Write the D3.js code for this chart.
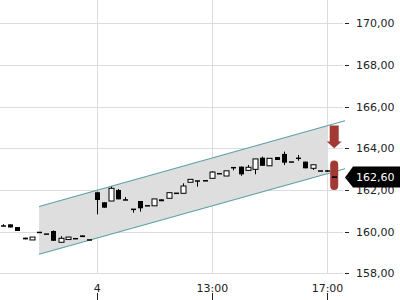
<!DOCTYPE html>
<html>
<head>
<meta charset="utf-8">
<script src="https://cdn.jsdelivr.net/npm/d3@7"></script>
<style>
  body { margin: 0; background: #fff; }
  text { font-family: "DejaVu Sans", sans-serif; font-size: 11px; fill: #222; }
</style>
</head>
<body>
<script>
// 15-minute candles, previous day tail then day 4
var opens  = [160.27,160.35,160.22,159.71,159.60,159.96,159.88,160.03,159.49,159.62,159.66,159.82,159.60,
              161.89,161.41,161.47,162.00,161.52,161.07,161.47,161.24,161.24,161.55,161.60,161.84,161.84,162.37,
              162.43,162.44,162.56,162.78,162.67,163.07,163.12,162.94,162.99,163.55,163.16,163.58,163.73,163.34,
              163.52,163.36,163.04,162.91,162.91,162.63];
var closes = [160.27,160.20,160.03,159.63,159.74,159.96,159.88,159.56,159.68,159.74,159.66,159.74,159.60,
              161.52,161.15,162.08,161.55,161.52,161.07,161.12,161.24,161.57,161.46,161.87,161.84,162.19,162.51,
              162.43,162.44,162.86,162.78,162.92,163.07,162.75,163.09,163.49,163.16,163.52,163.44,163.31,163.34,
              163.52,163.04,163.21,162.91,162.91,162.60];
var highs  = [160.36,160.35,160.22,159.71,159.74,159.96,159.88,160.06,159.78,159.74,159.66,159.82,159.60,
              161.92,161.41,162.16,162.05,161.66,161.07,161.47,161.24,161.57,161.55,161.87,161.84,162.32,162.51,
              162.43,162.44,162.90,162.78,162.92,163.07,163.12,163.20,163.49,163.60,163.52,163.58,163.84,163.34,
              163.68,163.36,163.21,162.91,162.95,162.63];
var lows   = [160.27,160.20,160.03,159.63,159.60,159.96,159.88,159.56,159.49,159.62,159.66,159.74,159.60,
              160.83,161.15,161.47,161.55,161.52,160.91,160.96,161.24,161.24,161.46,161.60,161.84,161.84,162.37,
              162.16,162.44,162.56,162.78,162.67,162.94,162.68,162.94,162.75,163.16,163.16,163.44,163.20,163.34,
              163.40,163.04,162.96,162.91,162.86,162.60];

var xTickIdx = [13, 29, 45];
var xTickLabels = ["4", "13:00", "17:00"];
var yTicks = [158, 160, 162, 164, 166, 168, 170];

// regression channel: [start index, end index], upper/lower price at each end
var channelIdx = [5, 47.5];
var channelUpper = [161.21, 165.32];
var channelLower = [158.91, 163.02];
var channelFillEnd = 45.05;

var lastPrice = 162.60;
// signal markers: down arrow tip price, pill top/bottom prices
var arrowSignal = { i: 46, tip: 164.0, top: 165.1 };
var pillSignal = { i: 46, top: 163.42, bottom: 162.0 };

var width = 400, height = 300;
var plotRight = 343;

var fmt = function(v){ return d3.format(".2f")(v).replace(".", ","); };

var x = d3.scaleLinear().domain([0, 46]).range([3.1, 334.2]);
var y = d3.scaleLinear().domain([158, 170]).range([273.3, 23.3]);

var svg = d3.select("body").append("svg")
  .attr("width", width)
  .attr("height", height);

/* grid */
svg.append("g")
  .selectAll("line")
  .data(yTicks)
  .enter().append("line")
  .attr("x1", 0).attr("x2", plotRight)
  .attr("y1", d => Math.round(y(d)) + 0.5).attr("y2", d => Math.round(y(d)) + 0.5)
  .style("stroke", "#dcdcdc");

svg.append("g")
  .selectAll("line")
  .data(xTickIdx)
  .enter().append("line")
  .attr("x1", d => Math.round(x(d)) + 0.5).attr("x2", d => Math.round(x(d)) + 0.5)
  .attr("y1", 0).attr("y2", 274)
  .style("stroke", "#dcdcdc");

/* channel */
var lineAt = function(ends, i){
  var t = (i - channelIdx[0]) / (channelIdx[1] - channelIdx[0]);
  return ends[0] + t * (ends[1] - ends[0]);
};

svg.append("polygon")
  .attr("points", [
      [x(channelIdx[0]), y(channelUpper[0])],
      [x(channelFillEnd), y(lineAt(channelUpper, channelFillEnd))],
      [x(channelFillEnd), y(lineAt(channelLower, channelFillEnd))],
      [x(channelIdx[0]), y(channelLower[0])]
    ].map(p => p.join(",")).join(" "))
  .style("fill", "#dedede");

[channelUpper, channelLower].forEach(function(ends){
  svg.append("line")
    .attr("x1", x(channelIdx[0])).attr("y1", y(ends[0]))
    .attr("x2", x(channelIdx[1])).attr("y2", y(ends[1]))
    .style("stroke", "#5d9fa6")
    .style("stroke-width", 1.1);
});

/* candles */
var candles = opens.map(function(o, i){
  return { i: i, o: o, c: closes[i], h: highs[i], l: lows[i] };
});

var bodyW = 5;
var cg = svg.append("g")
  .selectAll("g")
  .data(candles)
  .enter().append("g");

cg.append("line")
  .attr("x1", d => Math.round(x(d.i)) + 0.5)
  .attr("x2", d => Math.round(x(d.i)) + 0.5)
  .attr("y1", d => y(d.h))
  .attr("y2", d => y(d.l))
  .style("stroke", "#000");

cg.append("rect")
  .attr("x", d => Math.round(x(d.i)) - bodyW / 2 + 0.5)
  .attr("width", bodyW)
  .attr("y", function(d){
    var top = y(Math.max(d.o, d.c)), bot = y(Math.min(d.o, d.c));
    return (bot - top < 1.5) ? (top + bot) / 2 - 0.75 : top;
  })
  .attr("height", function(d){
    var h = y(Math.min(d.o, d.c)) - y(Math.max(d.o, d.c));
    return Math.max(h, 1.5);
  })
  .style("fill", d => (d.c > d.o) ? "#fff" : "#000")
  .style("stroke", d => (d.c > d.o) ? "#000" : "none")
  .style("stroke-width", 1);

/* signal markers */
var red = "#a23a33";
var ax = x(arrowSignal.i);
var headY = arrowSignal.tip + (arrowSignal.top - arrowSignal.tip) * 0.3;
svg.append("path")
  .attr("d", [
      "M", ax - 4.5, y(arrowSignal.top),
      "L", ax + 4.5, y(arrowSignal.top),
      "L", ax + 4.5, y(headY),
      "L", ax + 7.5, y(headY),
      "L", ax, y(arrowSignal.tip),
      "L", ax - 7.5, y(headY),
      "L", ax - 4.5, y(headY), "Z"
    ].join(" "))
  .style("fill", red);

svg.append("rect")
  .attr("x", x(pillSignal.i) - 4)
  .attr("width", 8)
  .attr("y", y(pillSignal.top))
  .attr("height", y(pillSignal.bottom) - y(pillSignal.top))
  .attr("rx", 4)
  .style("fill", red);

// last candle drawn again on top of the pill
var last = candles[candles.length - 1];
svg.append("rect")
  .attr("x", Math.round(x(last.i)) - bodyW / 2 + 0.5)
  .attr("width", bodyW)
  .attr("y", y(last.o) - 0.5)
  .attr("height", 1.6)
  .style("fill", "#000");

/* right axis */
var ya = svg.append("g");
ya.selectAll("line")
  .data(yTicks)
  .enter().append("line")
  .attr("x1", 345).attr("x2", 349)
  .attr("y1", d => Math.round(y(d)) + 0.5).attr("y2", d => Math.round(y(d)) + 0.5)
  .style("stroke", "#222");
ya.selectAll("text")
  .data(yTicks)
  .enter().append("text")
  .attr("x", 356)
  .attr("y", d => y(d))
  .attr("dy", "0.36em")
  .text(fmt);

/* last price flag */
var ly = y(lastPrice);
svg.append("path")
  .attr("d", "M 345 " + ly + " L 353 " + (ly - 11) + " L 400 " + (ly - 11) +
             " L 400 " + (ly + 10) + " L 353 " + (ly + 10) + " Z")
  .style("fill", "#000");
svg.append("line")
  .attr("x1", 345).attr("x2", 349)
  .attr("y1", ly).attr("y2", ly)
  .style("stroke", "#222");
svg.append("text")
  .attr("x", 356)
  .attr("y", ly)
  .attr("dy", "0.36em")
  .style("fill", "#fff")
  .text(fmt(lastPrice));

/* bottom axis */
var xa = svg.append("g");
xa.selectAll("line")
  .data(xTickIdx)
  .enter().append("line")
  .attr("x1", d => Math.round(x(d)) + 0.5).attr("x2", d => Math.round(x(d)) + 0.5)
  .attr("y1", 293).attr("y2", 300)
  .style("stroke", "#222");
xa.selectAll("text")
  .data(xTickIdx)
  .enter().append("text")
  .attr("x", d => x(d) + 0.5)
  .attr("y", 288)
  .attr("dy", "0.36em")
  .attr("text-anchor", "middle")
  .text((d, i) => xTickLabels[i]);
</script>
</body>
</html>
